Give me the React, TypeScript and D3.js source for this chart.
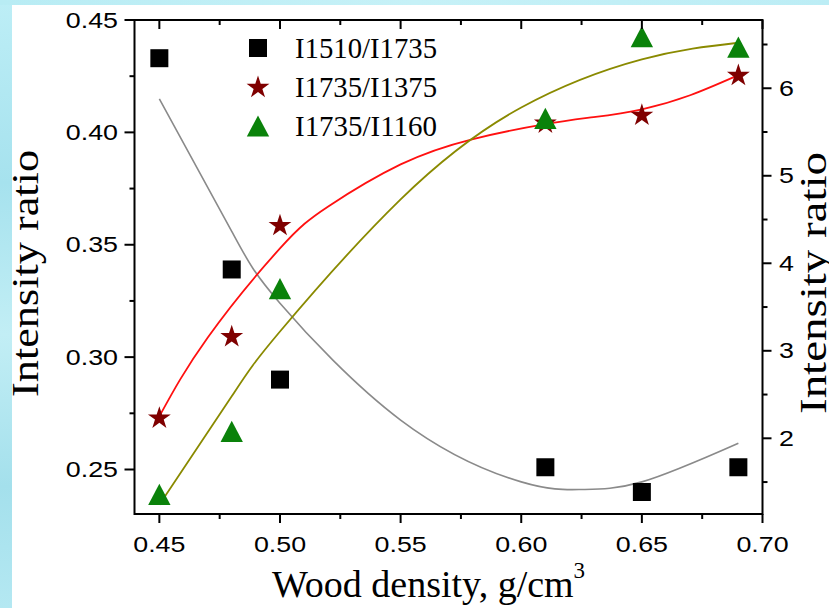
import React from 'react';
import * as d3 from 'd3';

// ---- data ----
const densities = [0.45, 0.48, 0.5, 0.61, 0.65, 0.69];
const ratio1510_1735 = [0.433, 0.339, 0.29, 0.251, 0.24, 0.251];
const ratio1735_1375 = [2.23, 3.16, 4.43, 5.6, 5.69, 6.145];
const ratio1735_1160 = [1.36, 2.08, 3.71, 5.656, 6.59, 6.47];
const seriesNames = ['I1510/I1735', 'I1735/I1375', 'I1735/I1160'];

// fitted curves
const fitGrayX = [0.45, 0.48, 0.5, 0.55, 0.6, 0.625, 0.65, 0.69];
const fitGrayY = [0.4149, 0.356, 0.324, 0.272, 0.2445, 0.2411, 0.2445, 0.2617];
const fitRedX = [0.45, 0.47, 0.5, 0.52, 0.55, 0.58, 0.61, 0.63, 0.65, 0.67, 0.69];
const fitRedY = [2.25, 3.15, 4.17, 4.65, 5.13, 5.42, 5.59, 5.67, 5.76, 5.92, 6.15];
const fitOliveX = [0.45, 0.48, 0.5, 0.55, 0.6, 0.65, 0.69];
const fitOliveY = [1.24, 2.48, 3.22, 4.73, 5.78, 6.33, 6.52];

const xTicks = [0.45, 0.5, 0.55, 0.6, 0.65, 0.7];
const xMinorTicks = [0.475, 0.525, 0.575, 0.625, 0.675];
const leftTicks = [0.25, 0.3, 0.35, 0.4, 0.45];
const leftMinorTicks = [0.275, 0.325, 0.375, 0.425];
const rightTicks = [2, 3, 4, 5, 6];
const rightMinorTicks = [1.5, 2.5, 3.5, 4.5, 5.5, 6.5];

const triangleType = {
  draw(ctx: any, size: number) {
    const w = Math.sqrt(size);
    const h = w * 0.95;
    ctx.moveTo(0, -h / 2);
    ctx.lineTo(w / 2, h / 2);
    ctx.lineTo(-w / 2, h / 2);
    ctx.closePath();
  },
};

export default function App() {
  const W = 829, H = 608;
  const x = d3.scaleLinear().domain([0.4397, 0.7]).range([134.5, 762.5]);
  const yL = d3.scaleLinear().domain([0.2302, 0.45]).range([514, 20]);
  const yR = d3.scaleLinear().domain([1.135, 6.78]).range([514, 20]);
  const [x0, x1] = x.range();
  const [yb, yt] = yL.range();

  const series = [
    { vals: ratio1510_1735, scale: yL, fill: '#000000', line: '#8a8a8a', lw: 1.6, sym: d3.symbolSquare, size: 324, fx: fitGrayX, fy: fitGrayY },
    { vals: ratio1735_1375, scale: yR, fill: '#7f0000', line: '#ff1010', lw: 1.8, sym: d3.symbolStar, size: 162, fx: fitRedX, fy: fitRedY },
    { vals: ratio1735_1160, scale: yR, fill: '#0a820a', line: '#8a8a00', lw: 1.8, sym: triangleType, size: 500, fx: fitOliveX, fy: fitOliveY },
  ];

  const tickFont = { fontFamily: 'Liberation Sans, Arial, sans-serif', fontSize: 22 };
  const serif = 'Liberation Serif, Times New Roman, serif';
  const legendY = [48, 87.5, 126];

  return (
    <svg width={W} height={H} style={{ position: 'absolute', left: 0, top: 0 }}>
      <defs>
        <linearGradient id="bgL" x1="0" y1="0" x2="0" y2="1">
          <stop offset="0" stopColor="#bdeef6" />
          <stop offset="0.3" stopColor="#a6e2ee" />
          <stop offset="0.55" stopColor="#c2eef5" />
          <stop offset="0.8" stopColor="#a4e0ec" />
          <stop offset="1" stopColor="#b4e8f2" />
        </linearGradient>
        <linearGradient id="bgT" x1="0" y1="0" x2="1" y2="0">
          <stop offset="0" stopColor="#b8ecf4" />
          <stop offset="0.5" stopColor="#c6f1f7" />
          <stop offset="1" stopColor="#bcedf5" />
        </linearGradient>
      </defs>
      <rect x={0} y={0} width={W} height={H} fill="url(#bgL)" />
      <rect x={0} y={0} width={W} height={5} fill="url(#bgT)" />
      <rect x={12} y={5} width={W - 12} height={H - 5} fill="#ffffff" />

      {/* fit curves */}
      {series.map((s, i) => {
        const line = d3.line<number>().x(d => x(d)).y((d, k) => s.scale(s.fy[k])).curve(d3.curveNatural);
        return <path key={'c' + i} d={line(s.fx) || ''} fill="none" stroke={s.line} strokeWidth={s.lw} />;
      })}

      {/* markers */}
      {series.map((s, i) => {
        const p = d3.symbol().type(s.sym as any).size(s.size)() || '';
        return (
          <g key={'m' + i}>
            {densities.map((d, j) => (
              <path key={j} d={p} transform={`translate(${x(d)},${s.scale(s.vals[j])})`} fill={s.fill} />
            ))}
          </g>
        );
      })}

      {/* frame */}
      <rect x={x0} y={yt} width={x1 - x0} height={yb - yt} fill="none" stroke="#000" strokeWidth={2} />

      {/* bottom / top axis */}
      {xTicks.map(t => (
        <g key={'xt' + t}>
          <line x1={x(t)} x2={x(t)} y1={yb} y2={yb + 9} stroke="#000" strokeWidth={2} />
          <line x1={x(t)} x2={x(t)} y1={yt} y2={yt + 9} stroke="#000" strokeWidth={2} />
          <g transform={`translate(${x(t)},551.5) scale(1.22,1)`}>
            <text textAnchor="middle" {...tickFont} fill="#000">{t.toFixed(2)}</text>
          </g>
        </g>
      ))}
      {xMinorTicks.map(t => (
        <g key={'xm' + t}>
          <line x1={x(t)} x2={x(t)} y1={yb} y2={yb + 5} stroke="#000" strokeWidth={2} />
          <line x1={x(t)} x2={x(t)} y1={yt} y2={yt + 5} stroke="#000" strokeWidth={2} />
        </g>
      ))}

      {/* left axis */}
      {leftTicks.map(t => (
        <g key={'lt' + t}>
          <line x1={x0 - 10} x2={x0} y1={yL(t)} y2={yL(t)} stroke="#000" strokeWidth={2} />
          <g transform={`translate(118,${yL(t) + 7.5}) scale(1.22,1)`}>
            <text textAnchor="end" {...tickFont} fill="#000">{t.toFixed(2)}</text>
          </g>
        </g>
      ))}
      {leftMinorTicks.map(t => (
        <line key={'lm' + t} x1={x0 - 5} x2={x0} y1={yL(t)} y2={yL(t)} stroke="#000" strokeWidth={2} />
      ))}

      {/* right axis */}
      {rightTicks.map(t => (
        <g key={'rt' + t}>
          <line x1={x1} x2={x1 + 9} y1={yR(t)} y2={yR(t)} stroke="#000" strokeWidth={2} />
          <g transform={`translate(779,${yR(t) + 7.5}) scale(1.22,1)`}>
            <text textAnchor="start" {...tickFont} fill="#000">{String(t)}</text>
          </g>
        </g>
      ))}
      {rightMinorTicks.map(t => (
        <line key={'rm' + t} x1={x1} x2={x1 + 5} y1={yR(t)} y2={yR(t)} stroke="#000" strokeWidth={2} />
      ))}

      {/* axis titles */}
      <text x={272} y={596.7} fontFamily={serif} fontSize={38} fill="#000">
        Wood density, g/cm<tspan fontSize={23} dy={-19}>3</tspan>
      </text>
      <text transform="translate(38.3,273.5) rotate(-90)" textAnchor="middle" fontFamily={serif} fontSize={38}
        textLength={247} lengthAdjust="spacingAndGlyphs" fill="#000">Intensity ratio</text>
      <text transform="translate(826,283) rotate(-90)" textAnchor="middle" fontFamily={serif} fontSize={38}
        textLength={262} lengthAdjust="spacingAndGlyphs" fill="#000">Intensity ratio</text>

      {/* legend */}
      {series.map((s, i) => {
        const p = d3.symbol().type(s.sym as any).size(s.size)() || '';
        return (
          <g key={'lg' + i}>
            <path d={p} transform={`translate(258,${legendY[i]})`} fill={s.fill} />
            <text x={295} y={legendY[i] + 9.5} fontFamily={serif} fontSize={30} textLength={142}
              lengthAdjust="spacingAndGlyphs" fill="#000">{seriesNames[i]}</text>
          </g>
        );
      })}
    </svg>
  );
}
